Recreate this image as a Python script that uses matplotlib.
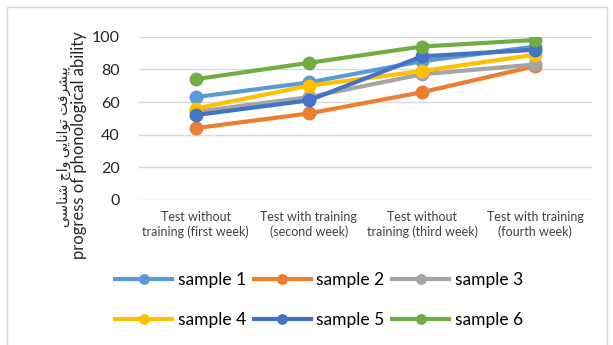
import matplotlib
matplotlib.use("Agg")
import matplotlib.pyplot as plt
from matplotlib.patches import Rectangle

# данные
weeks = ["Test without\ntraining (first week)", "Test with training\n(second week)",
         "Test without\ntraining (third week)", "Test with training\n(fourth week)"]
names = ["sample 1", "sample 2", "sample 3", "sample 4", "sample 5", "sample 6"]
s1 = [63, 72, 85, 94]
s2 = [44, 53, 66, 82]
s3 = [54, 63, 77, 83]
s4 = [56, 70, 79, 89]
s5 = [52, 61, 88, 92]
s6 = [74, 84, 94, 98]
yticks = [0, 20, 40, 60, 80, 100]
colors = ["#5B9BD5", "#ED7D31", "#A5A5A5", "#FFC000", "#4472C4", "#70AD47"]

# persian label, presentation forms in visual order
ylab_fa = "\uFBFD\uFEB3\uFE8E\uFEE8\uFEB7 \uFE9D\uFE8D\uFEED \uFBFD\uFBFE\uFE8E\uFEE7\uFE8D\uFEEE\uFE97 \uFE96\uFED3\uFEAE\uFEB8\uFBFF\uFB58"
ylab_en = "progress of phonological ability"

plt.rcParams['font.family'] = ['Lato', 'DejaVu Sans']

fig = plt.figure(figsize=(6.13, 3.45), dpi=100)
ax = fig.add_axes([0.2268, 0.4203, 0.7389, 0.4733])

# рамка
fig.patches.append(Rectangle((7 / 613, -0.1), 600 / 613, 1 - 7 / 345 + 0.1, transform=fig.transFigure,
                             fill=False, edgecolor="#D9D9D9", linewidth=1))

x = range(len(weeks))
lines = []
for vals, name, c in zip([s1, s2, s3, s4, s5, s6], names, colors):
    l, = ax.plot(x, vals, color=c, linewidth=3, marker="o", markersize=9, label=name)
    lines.append(l)

ax.set_xlim(-0.5, 3.5)
ax.set_ylim(0, 100)
ax.set_yticks(yticks)
ax.set_xticks(list(x))
ax.set_xticklabels(weeks, fontsize=9, color="#404040", linespacing=1.2)
ax.tick_params(axis='y', length=0, pad=14, labelsize=11.5, labelcolor="#262626")
ax.tick_params(axis='x', length=0, pad=8)
ax.grid(axis='y', color="#D9D9D9", linewidth=1)
ax.set_axisbelow(True)
for s in ax.spines.values():
    s.set_visible(False)

# подпись оси Y (две строки)
fig.text(87 / 613, 1 - 145 / 345, ylab_en, rotation=90, ha='right', va='center',
         fontsize=12, color="#262626")
fig.text(71 / 613, 1 - 147 / 345, ylab_fa, rotation=90, ha='right', va='center',
         fontsize=10, color="#262626")

order = [0, 3, 1, 4, 2, 5]
fig.legend([lines[i] for i in order], [names[i] for i in order], ncol=3, frameon=False,
           loc="upper left", bbox_to_anchor=(115 / 613, 1 - 272 / 345), fontsize=12.5,
           handlelength=3.3, handletextpad=0.3, columnspacing=0.45, labelspacing=1.4,
           markerscale=0.75, borderpad=0, borderaxespad=0)

fig.savefig("out.png", dpi=100)
